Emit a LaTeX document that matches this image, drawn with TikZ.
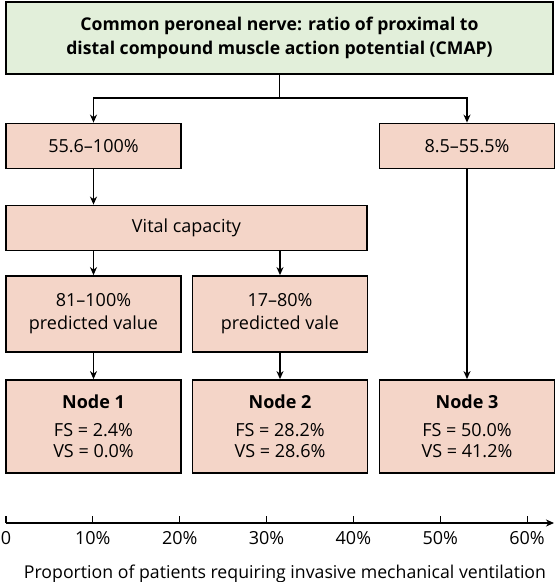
\documentclass[tikz,border=0pt]{standalone}
\usepackage{fontspec}
\setmainfont{Open Sans}
\usetikzlibrary{positioning,arrows.meta,calc}
\definecolor{rootgreen}{HTML}{E2EFDA}
\definecolor{splitpink}{HTML}{F4D5C8}

\begin{document}
\begin{tikzpicture}[
      x=1pt, y=-1pt,
      font=\fontsize{18}{23}\selectfont,
      box/.style={draw, line width=1.8pt, fill=splitpink, align=center,
                  inner sep=0pt, minimum width=175pt},
      link/.style={->, line width=1.2pt},
      >={Stealth[length=8pt, width=7pt, inset=2.5pt]},
    ]
    \useasboundingbox (0,0) rectangle (555,582);

    \node[box, fill=rootgreen, minimum width=547pt, minimum height=72pt,
          font=\fontsize{17.6}{24}\selectfont\bfseries] (root) at (279.5,38)
      {Common peroneal nerve: ratio of proximal to\\distal compound muscle action potential (CMAP)};

    \node[box, minimum height=45pt] (hi) at (93.5,146) {55.6--100\%};
    \node[box, minimum height=45pt] (lo) at (467,146) {8.5--55.5\%};
    \node[box, minimum height=45pt, minimum width=361pt] (vc) at (186.5,228) {Vital capacity};

    \node[box, minimum height=76pt] (vchi) at (93.5,314) {81--100\%\\predicted value};
    \node[box, minimum height=76pt] (vclo) at (280,314) {17--80\%\\predicted vale};

    \node[box, minimum height=93pt, font=\fontsize{18}{21}\selectfont] (n1) at (93.5,426.5)
      {\textbf{Node 1}\\[7pt]FS = 2.4\%\\VS = 0.0\%};
    \node[box, minimum height=93pt, font=\fontsize{18}{21}\selectfont] (n2) at (280,426.5)
      {\textbf{Node 2}\\[7pt]FS = 28.2\%\\VS = 28.6\%};
    \node[box, minimum height=93pt, font=\fontsize{18}{21}\selectfont] (n3) at (467,426.5)
      {\textbf{Node 3}\\[7pt]FS = 50.0\%\\VS = 41.2\%};

    % tree
    \coordinate (fork) at ($(root.south)+(0,23)$);
    \draw[line width=1.2pt] (root.south) -- (fork);
    \draw[link] (fork) -| (hi.north);
    \draw[link] (fork) -| (lo.north);
    \draw[link] (hi.south) -- (hi.south |- vc.north);
    \draw[link] (vc.south -| vchi) -- (vchi.north);
    \draw[link] (vc.south -| vclo) -- (vclo.north);
    \draw[link] (vchi) -- (n1);
    \draw[link] (vclo) -- (n2);
    \draw[link] (lo) -- (n3);

    % axis
    \coordinate (ax0) at (6,523);
    \coordinate (axend) at (554,523);
    \draw[link] (ax0) -- (axend);
    \foreach \t/\lab in {0/0,1/10\%,2/20\%,3/30\%,4/40\%,5/50\%,6/60\%} {
      \draw[line width=1.2pt] ($(ax0)+(86.85*\t,0)$) -- ++(0,-7)
        node[pos=0, below=5pt] (tick\t) {\lab};
    }
    \node[font=\fontsize{17.7}{21}\selectfont] (axlabel) at (285,574)
      {Proportion of patients requiring invasive mechanical ventilation};
  \end{tikzpicture}
\end{document}
